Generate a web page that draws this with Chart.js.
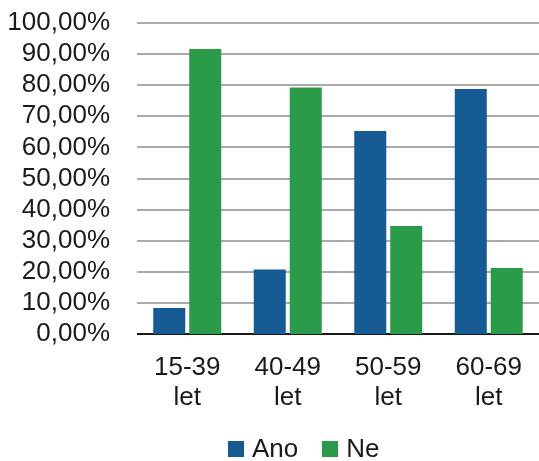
<!DOCTYPE html>
<html>
<head>
<meta charset="utf-8">
<script src="https://cdn.jsdelivr.net/npm/chart.js@4.4.1/dist/chart.umd.min.js"></script>
<style>
  html, body { margin: 0; padding: 0; background: #ffffff; }
  .chart-box { position: relative; width: 539px; height: 461px; }
  .legend { position: absolute; left: 228px; top: 434px; margin: 0; padding: 0; list-style: none;
            font-family: "Liberation Sans", Arial, sans-serif; font-size: 26px; color: #1a1a1a;
            white-space: nowrap; line-height: 28px; }
  .legend li { display: inline-block; margin-right: 24px; }
  .legend .box { display: inline-block; width: 16px; height: 16px; margin-right: 8px; vertical-align: baseline; }
</style>
</head>
<body>
<div class="chart-box">
  <canvas id="chart"></canvas>
  <ul class="legend" id="legend"></ul>
</div>
<script>
var categories = [['15-39', 'let'], ['40-49', 'let'], ['50-59', 'let'], ['60-69', 'let']];
var anoValues = [8.4, 20.7, 65.3, 78.8];
var neValues = [91.6, 79.3, 34.7, 21.2];
var yTicks = [0, 10, 20, 30, 40, 50, 60, 70, 80, 90, 100];

var FONT = '"Liberation Sans", Arial, sans-serif';

// grid lines run out to the right edge of the picture, like the original
var gridLines = {
  id: 'gridLines',
  beforeDatasetsDraw: function (chart) {
    var ctx = chart.ctx;
    var y = chart.scales.y;
    var area = chart.chartArea;
    ctx.save();
    yTicks.forEach(function (v) {
      var py = Math.round(y.getPixelForValue(v));
      ctx.beginPath();
      ctx.strokeStyle = v === 0 ? '#1a1a1a' : '#a9a9a9';
      ctx.lineWidth = 2;
      ctx.moveTo(area.left, py);
      ctx.lineTo(chart.width, py);
      ctx.stroke();
    });
    ctx.restore();
  }
};

var chart = new Chart(document.getElementById('chart'), {
  type: 'bar',
  data: {
    labels: categories,
    datasets: [
      { label: 'Ano', data: anoValues, backgroundColor: '#175b94' },
      { label: 'Ne', data: neValues, backgroundColor: '#2b9b4a' }
    ]
  },
  options: {
    responsive: true,
    maintainAspectRatio: false,
    animation: false,
    layout: { padding: { top: 23, right: 0, left: 0, bottom: 0 } },
    datasets: {
      bar: { categoryPercentage: 0.716, barPercentage: 0.89 }
    },
    plugins: {
      legend: { display: false },
      tooltip: { enabled: false }
    },
    scales: {
      x: {
        // tick marks are hidden, their length only pushes the labels down
        grid: { display: false, drawTicks: true, tickLength: 19 },
        border: { display: false },
        ticks: {
          color: '#1a1a1a',
          font: { family: FONT, size: 26, lineHeight: 1.15 },
          padding: 0,
          maxRotation: 0
        },
        afterFit: function (scale) { scale.height = 127; }
      },
      y: {
        min: 0,
        max: 100,
        afterFit: function (scale) { scale.width = 137; },
        afterBuildTicks: function (scale) {
          scale.ticks = yTicks.map(function (v) { return { value: v }; });
        },
        grid: { display: false, drawTicks: true, tickLength: 27 },
        border: { display: false },
        ticks: {
          autoSkip: false,
          color: '#1a1a1a',
          font: { family: FONT, size: 26 },
          padding: 0,
          callback: function (value) {
            return value.toFixed(2).replace('.', ',') + '%';
          }
        }
      }
    }
  },
  plugins: [gridLines]
});

// html legend built from the datasets
document.getElementById('legend').innerHTML = chart.data.datasets.map(function (ds) {
  return '<li><span class="box" style="background:' + ds.backgroundColor + '"></span>' + ds.label + '</li>';
}).join('');
</script>
</body>
</html>
